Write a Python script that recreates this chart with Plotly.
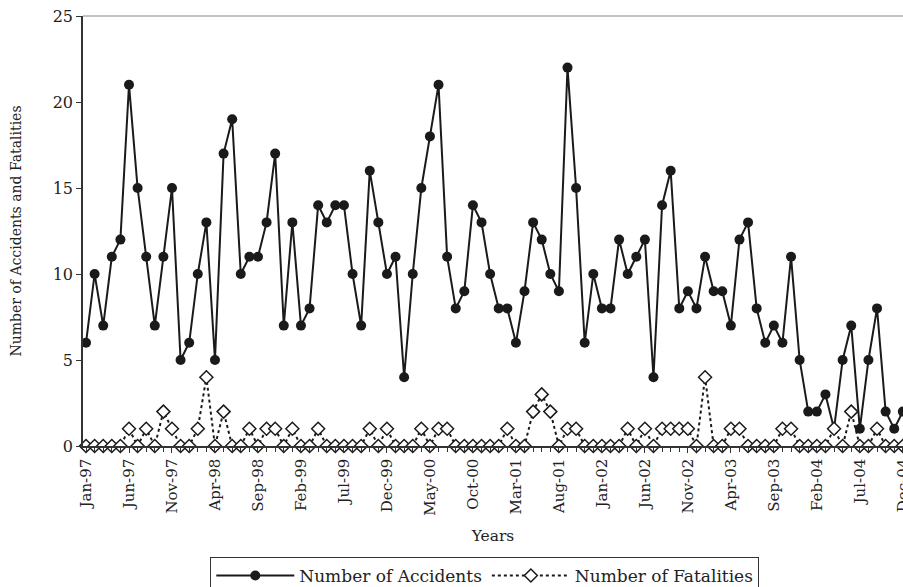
import plotly.graph_objects as go

months = ["Jan", "Feb", "Mar", "Apr", "May", "Jun", "Jul", "Aug", "Sep", "Oct", "Nov", "Dec"]
years = ["97", "98", "99", "00", "01", "02", "03", "04"]
categories = [f"{m}-{y}" for y in years for m in months]

accidents = [
    6, 10, 7, 11, 12, 21, 15, 11, 7, 11, 15, 5,
    6, 10, 13, 5, 17, 19, 10, 11, 11, 13, 17, 7,
    13, 7, 8, 14, 13, 14, 14, 10, 7, 16, 13, 10,
    11, 4, 10, 15, 18, 21, 11, 8, 9, 14, 13, 10,
    8, 8, 6, 9, 13, 12, 10, 9, 22, 15, 6, 10,
    8, 8, 12, 10, 11, 12, 4, 14, 16, 8, 9, 8,
    11, 9, 9, 7, 12, 13, 8, 6, 7, 6, 11, 5,
    2, 2, 3, 1, 5, 7, 1, 5, 8, 2, 1, 2,
]
fatalities = [
    0, 0, 0, 0, 0, 1, 0, 1, 0, 2, 1, 0,
    0, 1, 4, 0, 2, 0, 0, 1, 0, 1, 1, 0,
    1, 0, 0, 1, 0, 0, 0, 0, 0, 1, 0, 1,
    0, 0, 0, 1, 0, 1, 1, 0, 0, 0, 0, 0,
    0, 1, 0, 0, 2, 3, 2, 0, 1, 1, 0, 0,
    0, 0, 0, 1, 0, 1, 0, 1, 1, 1, 1, 0,
    4, 0, 0, 1, 1, 0, 0, 0, 0, 1, 1, 0,
    0, 0, 0, 1, 0, 2, 0, 0, 1, 0, 0, 0,
]
tick_idx = list(range(0, len(categories), 5))
tick_labels = [categories[i] for i in tick_idx]
y_ticks = [0, 5, 10, 15, 20, 25]

x = list(range(len(categories)))
serif = "'DejaVu Serif', 'Liberation Serif', serif"
txt = "#222222"

fig = go.Figure()
fig.add_trace(go.Scatter(
    x=x, y=accidents, name="Number of Accidents", mode="lines+markers",
    line=dict(color="#1a1a1a", width=2),
    marker=dict(symbol="circle", size=10, color="#1a1a1a"),
    cliponaxis=False,
))
fig.add_trace(go.Scatter(
    x=x, y=fatalities, name="Number of Fatalities", mode="lines+markers",
    line=dict(color="#1a1a1a", width=2, dash="3px,3px"),
    marker=dict(symbol="diamond", size=10, color="white",
                line=dict(color="#1a1a1a", width=1.5)),
    cliponaxis=False,
))

fig.update_layout(
    width=903, height=587,
    margin=dict(l=83, r=0, t=16, b=141, autoexpand=False),
    paper_bgcolor="white", plot_bgcolor="white",
    font=dict(family=serif, size=15, color=txt),
    showlegend=True,
    legend=dict(
        orientation="h", x=0.49, xanchor="center", y=-0.258, yanchor="top",
        bordercolor="#333333", borderwidth=1, itemwidth=78,
        font=dict(family=serif, size=17, color=txt),
        traceorder="normal",
    ),
    shapes=[dict(type="line", xref="paper", yref="paper", x0=0, x1=1, y0=1, y1=1,
                 line=dict(color="#888888", width=1))],
)
fig.update_xaxes(
    range=[-0.35, 95.02], tickmode="array", tickvals=tick_idx, ticktext=tick_labels,
    tickangle=-90, ticks="outside", ticklen=5, tickcolor="#333333",
    minor=dict(dtick=1, tick0=0, ticks="outside", ticklen=4, tickcolor="#333333"),
    showline=True, linecolor="#333333", linewidth=1.5,
    showgrid=False, zeroline=False, automargin=False,
    ticklabeloverflow="allow",
    tickfont=dict(family=serif, size=15, color=txt),
    title=dict(text="Years", font=dict(family=serif, size=15.5, color=txt), standoff=15),
)
fig.update_yaxes(
    range=[0, 25], tickvals=y_ticks, ticks="outside", ticklen=5, tickcolor="#333333",
    showline=True, linecolor="#333333", linewidth=1.5,
    showgrid=False, zeroline=False, automargin=False,
    tickfont=dict(family=serif, size=16, color=txt),
    title=dict(text="Number of Accidents and Fatalities", font=dict(family=serif, size=14, color=txt), standoff=28),
)

fig.write_html("out.html", config={"displayModeBar": False},
               post_script="document.body.style.margin='0';")
